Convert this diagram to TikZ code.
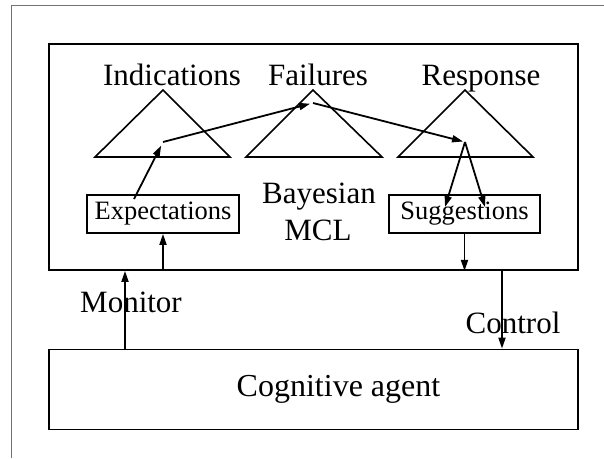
\documentclass[tikz,border=0pt]{standalone}
\usepackage{fontspec}
\setmainfont{Liberation Serif}
\usetikzlibrary{arrows.meta,calc}
\begin{document}
\begin{tikzpicture}[x=1pt,y=-1pt,
  lw/.style={line width=1.8pt},
  arr/.style={lw,-{Triangle[length=11pt,width=7pt]}},
  tri/.style={line width=1.6pt,line join=miter},
  big/.style={font=\fontsize{31}{37}\selectfont,inner sep=0pt},
  small/.style={font=\fontsize{26.5}{32}\selectfont},
  box/.style={draw,lw,inner sep=0pt},
  frame/.style={draw=black!55,line width=1.2pt}]
\useasboundingbox (0,0) rectangle (604,458);
% page frame (top and left edges only)
\draw[frame] (11.5,458) -- (11.5,5.5) -- (604,5.5);

% outer containers
\node[box,minimum width=529pt,minimum height=226pt] (mcl) at (313.5,157) {};
\node[box,minimum width=529pt,minimum height=80pt] (agent) at (313.5,389.5) {};
\node[big,anchor=base,font=\fontsize{32}{38}\selectfont] (agentlbl) at (338.5,396) {Cognitive agent};

% ontology triangles
\draw[tri] (95,157) -- (163,90) -- (230,157) -- cycle;
\draw[tri] (246,157) -- (313,90) -- (382,157) -- cycle;
\draw[tri] (398,157) -- (465,90) -- (533,157) -- cycle;
\node[big,anchor=base] (lind) at (172,85) {Indications};
\node[big,anchor=base] (lfail) at (318,85) {Failures};
\node[big,anchor=base] (lresp) at (481,85) {Response};

\node[big,anchor=base] (lbay) at (319,203) {Bayesian};
\node[big,anchor=base] (lmcl) at (318,240) {MCL};

% inner boxes
\node[box,small,minimum width=152pt,minimum height=38pt] (exp) at (163,214) {Expectations};
\node[box,small,minimum width=151pt,minimum height=38pt] (sug) at (464.5,214) {Suggestions};

% points inside the triangles
\coordinate (pInd) at (163,142);
\coordinate (pFail) at (313,103);
\coordinate (pResp) at (465,142);
\coordinate (eOut) at (134,199);
\coordinate (sInA) at (445,207);
\coordinate (sInB) at (485,207);
\coordinate (monX) at (125,0);
\coordinate (ctlX) at (502,0);

\draw[arr,shorten >=4pt] (eOut) -- (pInd);
\draw[arr,shorten >=3pt] (pInd) -- (pFail);
\draw[arr,shorten >=2pt] (pFail) -- (pResp);
\draw[arr] (pResp) -- (sInA);
\draw[arr] (pResp) -- (sInB);
\draw[arr] (mcl.south -| exp.south) -- (exp.south);
\draw[arr] (sug.south) -- (mcl.south -| sug.south);
\draw[arr] (agent.north -| monX) -- (mcl.south -| monX);
\draw[arr] (mcl.south -| ctlX) -- (agent.north -| ctlX);

\node[big,anchor=base] (lmon) at (131,312) {Monitor};
\node[big,anchor=base] (lctl) at (513,333) {Control};
\end{tikzpicture}
\end{document}
